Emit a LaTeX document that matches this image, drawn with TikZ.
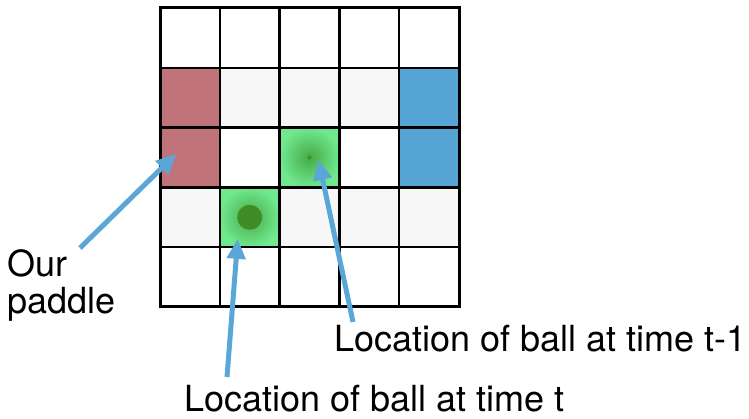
\documentclass[tikz,border=0pt]{standalone}
\usepackage{fontspec}
\setmainfont{TeX Gyre Heros}
\usetikzlibrary{arrows.meta}
\definecolor{paddlered}{RGB}{192,116,122}
\definecolor{paddleblue}{RGB}{86,164,212}
\definecolor{cellgray}{RGB}{247,247,247}
\definecolor{ballgreen}{RGB}{112,232,142}
\definecolor{ballmid}{RGB}{70,170,70}
\definecolor{balldark}{RGB}{66,140,38}
\definecolor{arrowblue}{RGB}{90,166,214}

\begin{document}
\begin{tikzpicture}[x=1pt, y=-1pt, >={Triangle[length=20pt,width=18pt]},
    lbl/.style={anchor=base west, inner sep=0pt, font=\fontsize{36}{40}\selectfont},
    pointer/.style={->, arrowblue, line width=5pt}]
    \useasboundingbox (0,0) rectangle (749,419);
    % board, one unit is one cell
    \begin{scope}[shift={(160,8)}, x=59.8pt, y=-59.8pt]
      \fill[cellgray] (1,1) rectangle (4,2);
      \fill[cellgray] (0,3) rectangle (5,4);
      \fill[paddlered] (0,1) rectangle (1,3);
      \fill[paddleblue] (4,1) rectangle (5,3);
      \shade[inner color=ballmid, outer color=ballgreen] (2,2) rectangle (3,3);
      \shade[inner color=ballmid, outer color=ballgreen] (1,3) rectangle (2,4);
      \fill[balldark] (1.5,3.5) circle (12.5pt);
      \fill[balldark] (2.5,2.5) circle (2pt);
      \foreach \i in {1,...,4} {
        \draw[line width=2.5pt] (\i,0) -- (\i,5);
        \draw[line width=2.5pt] (0,\i) -- (5,\i);
      }
      \draw[line width=3pt] (0,0) rectangle (5,5);
      \coordinate (paddletip) at (0.27,2.44);
      \coordinate (nowtip) at (1.3,3.86);
      \coordinate (prevtip) at (2.65,2.54);
    \end{scope}

    \node[lbl] (our) at (7,277) {Our};
    \node[lbl] (paddle) at (7,313) {paddle};
    \node[lbl] (prev) at (334,352) {Location of ball at time t-1};
    \node[lbl] (now) at (184,411) {Location of ball at time t};

    \coordinate (paddlefrom) at (80,248);
    \coordinate (nowfrom) at (227,377);
    \coordinate (prevfrom) at (353,322);
    \draw[pointer] (paddlefrom) -- (paddletip);
    \draw[pointer] (nowfrom) -- (nowtip);
    \draw[pointer] (prevfrom) -- (prevtip);
  \end{tikzpicture}
\end{document}
